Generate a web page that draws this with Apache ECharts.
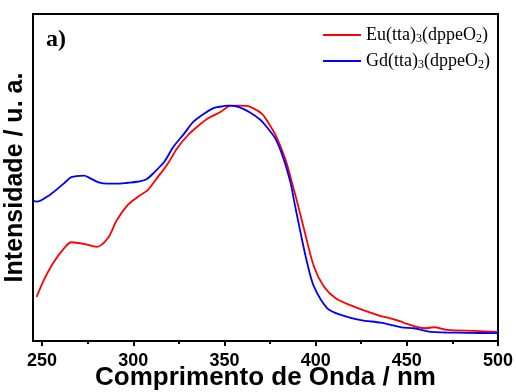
<!DOCTYPE html>
<html>
<head>
<meta charset="utf-8">
<script src="https://cdn.jsdelivr.net/npm/echarts@6/dist/echarts.min.js"></script>
<style>
  html, body { margin: 0; padding: 0; background: #fff; }
  #chart { width: 516px; height: 392px; }
</style>
</head>
<body>
<div id="chart"></div>
<script>
// Excitation spectra (normalised intensity, arbitrary units)
const euWavelength = [247, 251, 256, 262, 266, 273, 280, 286, 291, 297, 302, 308, 313, 319, 324, 330, 335, 341, 348, 353, 357, 362.5, 366, 370.7, 374, 378, 383.5, 388.1, 389.6, 393.5, 399.1, 404.6, 411, 421, 435.7, 439, 447, 449, 460, 465, 472, 487, 500];
const euIntensity  = [0.135, 0.187, 0.238, 0.283, 0.302, 0.297, 0.288, 0.314, 0.370, 0.416, 0.439, 0.462, 0.498, 0.543, 0.589, 0.630, 0.655, 0.681, 0.701, 0.719, 0.720, 0.719, 0.711, 0.694, 0.668, 0.630, 0.554, 0.462, 0.431, 0.345, 0.227, 0.166, 0.131, 0.105, 0.076, 0.072, 0.059, 0.054, 0.039, 0.042, 0.034, 0.031, 0.028];

const gdWavelength = [245, 247, 254, 262, 266, 273, 276, 281, 286, 291, 297, 302, 307, 311, 317, 322, 328, 333, 339, 344, 346, 352, 354, 358, 364, 369.8, 372.5, 378, 382.6, 386.3, 388.1, 391.8, 395.4, 399.1, 406.4, 413.7, 424.7, 435.7, 447, 454, 463, 482, 500];
const gdIntensity  = [0.429, 0.426, 0.446, 0.482, 0.501, 0.506, 0.499, 0.485, 0.481, 0.481, 0.484, 0.487, 0.494, 0.513, 0.548, 0.594, 0.635, 0.671, 0.696, 0.712, 0.715, 0.720, 0.720, 0.715, 0.699, 0.676, 0.659, 0.618, 0.554, 0.482, 0.431, 0.329, 0.238, 0.166, 0.100, 0.080, 0.064, 0.056, 0.042, 0.039, 0.028, 0.025, 0.024];

const seriesNames = ['Eu(tta)3(dppeO2)', 'Gd(tta)3(dppeO2)'];
const majorTicks = [250, 300, 350, 400, 450, 500];
const minorTicks = [275, 325, 375, 425, 475];

const pairs = (xs, ys) => xs.map((x, i) => [x, ys[i]]);
// digits in compound names become subscripts
const subscript = s => s.replace(/(\d+)/g, '{sub|$1}');

const chart = echarts.init(document.getElementById('chart'));
chart.setOption({
  animation: false,
  backgroundColor: '#ffffff',
  title: {
    text: 'a)', left: 41, top: 23,
    textStyle: { fontFamily: 'Liberation Serif', fontWeight: 'bold', fontSize: 24, color: '#000' }
  },
  legend: {
    orient: 'vertical', left: 318, top: 20, itemGap: 6,
    itemWidth: 38, itemHeight: 10,
    icon: 'path://M0,4 L38,4 L38,6 L0,6 Z',
    formatter: subscript,
    textStyle: {
      fontFamily: 'Liberation Serif', fontSize: 18, color: '#000', lineHeight: 20,
      rich: { sub: { fontFamily: 'Liberation Serif', fontSize: 12, color: '#000', lineHeight: 20, padding: [7, 0, 0, 0] } }
    }
  },
  grid: {
    left: 33, right: 18, top: 14, bottom: 51, outerBoundsMode: 'none',
    show: true, borderColor: '#000', borderWidth: 2
  },
  xAxis: [{
    type: 'value', min: 245, max: 500,
    name: 'Comprimento de Onda / nm', nameLocation: 'middle', nameGap: 24, nameMoveOverlap: false,
    nameTextStyle: { fontFamily: 'Liberation Sans', fontWeight: 'bold', fontSize: 26, color: '#000' },
    axisLine: { lineStyle: { color: '#000', width: 2 } },
    axisTick: { customValues: majorTicks, length: 5, lineStyle: { color: '#000', width: 2 } },
    axisLabel: { customValues: majorTicks, margin: 11, fontFamily: 'Liberation Sans', fontWeight: 'bold', fontSize: 18, color: '#000' },
    splitLine: { show: false }
  }, {
    type: 'value', min: 245, max: 500, position: 'bottom', gridIndex: 0,
    axisLine: { show: false },
    axisTick: { customValues: minorTicks, length: 3, lineStyle: { color: '#000', width: 2 } },
    axisLabel: { show: false },
    splitLine: { show: false }
  }],
  yAxis: {
    type: 'value', min: 0, max: 1,
    name: 'Intensidade / u. a.', nameLocation: 'middle', nameGap: 5, nameMoveOverlap: false,
    nameTextStyle: { fontFamily: 'Liberation Sans', fontWeight: 'bold', fontSize: 25, color: '#000' },
    axisLine: { show: true, lineStyle: { color: '#000', width: 2 } },
    axisTick: { show: false },
    axisLabel: { show: false },
    splitLine: { show: false }
  },
  series: [{
    name: seriesNames[0], type: 'line', data: pairs(euWavelength, euIntensity),
    smooth: 0.3, showSymbol: false, color: '#ff0000', lineStyle: { width: 1.8, color: '#ff0000' }
  }, {
    name: seriesNames[1], type: 'line', data: pairs(gdWavelength, gdIntensity),
    smooth: 0.3, showSymbol: false, color: '#0000ff', lineStyle: { width: 1.8, color: '#0000ff' }
  }]
});
</script>
</body>
</html>
